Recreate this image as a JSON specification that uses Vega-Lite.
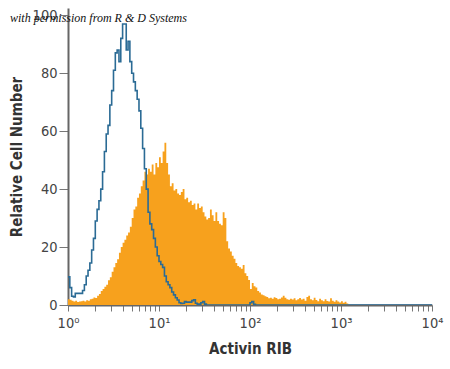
{
  "$schema": "https://vega.github.io/schema/vega-lite/v6.json",
  "autosize": {"type": "none"},
  "padding": {"left": 68, "top": 8, "right": 18, "bottom": 64},
  "width": 364,
  "height": 297,
  "background": "white",
  "config": {"view": {"stroke": null}},
  "title": {
    "text": "with permission from R & D Systems",
    "anchor": "start",
    "frame": "group",
    "orient": "top",
    "offset": -18,
    "dx": -58,
    "font": "Liberation Serif",
    "fontStyle": "italic",
    "fontWeight": "normal",
    "fontSize": 12,
    "color": "#111111"
  },
  "datasets": {
    "isotype": [
      {"intensity": 1.000, "count": 9.7}, {"intensity": 1.047, "count": 6}, {"intensity": 1.096, "count": 3}, {"intensity": 1.148, "count": 2.8},
      {"intensity": 1.202, "count": 4}, {"intensity": 1.259, "count": 4}, {"intensity": 1.318, "count": 4}, {"intensity": 1.380, "count": 4},
      {"intensity": 1.445, "count": 5}, {"intensity": 1.514, "count": 7}, {"intensity": 1.585, "count": 10}, {"intensity": 1.660, "count": 12},
      {"intensity": 1.738, "count": 14.5}, {"intensity": 1.820, "count": 19}, {"intensity": 1.905, "count": 23}, {"intensity": 1.995, "count": 29},
      {"intensity": 2.089, "count": 33}, {"intensity": 2.188, "count": 36}, {"intensity": 2.291, "count": 40}, {"intensity": 2.399, "count": 46},
      {"intensity": 2.512, "count": 53}, {"intensity": 2.630, "count": 59}, {"intensity": 2.754, "count": 62}, {"intensity": 2.884, "count": 69},
      {"intensity": 3.020, "count": 74}, {"intensity": 3.162, "count": 81}, {"intensity": 3.311, "count": 87}, {"intensity": 3.467, "count": 88},
      {"intensity": 3.631, "count": 84}, {"intensity": 3.802, "count": 92}, {"intensity": 3.981, "count": 97}, {"intensity": 4.169, "count": 97},
      {"intensity": 4.365, "count": 88}, {"intensity": 4.571, "count": 91}, {"intensity": 4.786, "count": 84}, {"intensity": 5.012, "count": 80},
      {"intensity": 5.248, "count": 77}, {"intensity": 5.495, "count": 74}, {"intensity": 5.754, "count": 71}, {"intensity": 6.026, "count": 67},
      {"intensity": 6.310, "count": 61}, {"intensity": 6.607, "count": 54}, {"intensity": 6.918, "count": 47}, {"intensity": 7.244, "count": 40},
      {"intensity": 7.586, "count": 32}, {"intensity": 7.943, "count": 28}, {"intensity": 8.318, "count": 26}, {"intensity": 8.710, "count": 23},
      {"intensity": 9.120, "count": 20}, {"intensity": 9.550, "count": 17}, {"intensity": 10.00, "count": 15}, {"intensity": 10.47, "count": 14},
      {"intensity": 10.96, "count": 13}, {"intensity": 11.48, "count": 10}, {"intensity": 12.02, "count": 8}, {"intensity": 12.59, "count": 7},
      {"intensity": 13.18, "count": 6}, {"intensity": 13.80, "count": 4.5}, {"intensity": 14.45, "count": 3.5}, {"intensity": 15.14, "count": 2.5},
      {"intensity": 15.85, "count": 1.7}, {"intensity": 16.60, "count": 0.8}, {"intensity": 17.38, "count": 0.5}, {"intensity": 18.20, "count": 0.6},
      {"intensity": 19.05, "count": 1.2}, {"intensity": 19.95, "count": 1}, {"intensity": 20.89, "count": 1}, {"intensity": 21.88, "count": 1},
      {"intensity": 22.91, "count": 1.5}, {"intensity": 23.99, "count": 1.8}, {"intensity": 25.12, "count": 0.6}, {"intensity": 26.30, "count": 0.3},
      {"intensity": 27.54, "count": 0.3}, {"intensity": 28.84, "count": 0.8}, {"intensity": 30.20, "count": 1.2}, {"intensity": 31.62, "count": 0.3},
      {"intensity": 33.11, "count": 0}, {"intensity": 95.50, "count": 0}, {"intensity": 100.0, "count": 0.8}, {"intensity": 104.7, "count": 1.2},
      {"intensity": 109.6, "count": 0.2}, {"intensity": 114.8, "count": 0}, {"intensity": 10000, "count": 0}
    ],
    "activin": [
      {"intensity": 1.000, "count": 2}, {"intensity": 1.047, "count": 1.8}, {"intensity": 1.096, "count": 1.5}, {"intensity": 1.148, "count": 1.2},
      {"intensity": 1.202, "count": 1.5}, {"intensity": 1.259, "count": 1}, {"intensity": 1.318, "count": 1.2}, {"intensity": 1.380, "count": 1.3},
      {"intensity": 1.445, "count": 1.5}, {"intensity": 1.514, "count": 1.2}, {"intensity": 1.585, "count": 1.6}, {"intensity": 1.660, "count": 1.5},
      {"intensity": 1.738, "count": 2}, {"intensity": 1.820, "count": 2.2}, {"intensity": 1.905, "count": 2.6}, {"intensity": 1.995, "count": 2.4},
      {"intensity": 2.089, "count": 3.2}, {"intensity": 2.188, "count": 3.8}, {"intensity": 2.291, "count": 4.8}, {"intensity": 2.399, "count": 5.5},
      {"intensity": 2.512, "count": 6.3}, {"intensity": 2.630, "count": 7}, {"intensity": 2.754, "count": 8.5}, {"intensity": 2.884, "count": 9.6},
      {"intensity": 3.020, "count": 11.5}, {"intensity": 3.162, "count": 13}, {"intensity": 3.311, "count": 14.5}, {"intensity": 3.467, "count": 15.8},
      {"intensity": 3.631, "count": 18}, {"intensity": 3.802, "count": 20}, {"intensity": 3.981, "count": 21.5}, {"intensity": 4.169, "count": 22.5},
      {"intensity": 4.365, "count": 24}, {"intensity": 4.571, "count": 25}, {"intensity": 4.786, "count": 27}, {"intensity": 5.012, "count": 30},
      {"intensity": 5.248, "count": 33}, {"intensity": 5.495, "count": 34}, {"intensity": 5.754, "count": 37}, {"intensity": 6.026, "count": 38.5},
      {"intensity": 6.310, "count": 41}, {"intensity": 6.607, "count": 43}, {"intensity": 6.918, "count": 46}, {"intensity": 7.244, "count": 45},
      {"intensity": 7.586, "count": 47}, {"intensity": 7.943, "count": 46}, {"intensity": 8.318, "count": 48.5}, {"intensity": 8.710, "count": 45},
      {"intensity": 9.120, "count": 49}, {"intensity": 9.550, "count": 47.5}, {"intensity": 10.00, "count": 51}, {"intensity": 10.47, "count": 49},
      {"intensity": 10.96, "count": 53}, {"intensity": 11.48, "count": 56}, {"intensity": 12.02, "count": 49}, {"intensity": 12.59, "count": 45},
      {"intensity": 13.18, "count": 41}, {"intensity": 13.80, "count": 42}, {"intensity": 14.45, "count": 39.5}, {"intensity": 15.14, "count": 40},
      {"intensity": 15.85, "count": 38.5}, {"intensity": 16.60, "count": 38}, {"intensity": 17.38, "count": 39}, {"intensity": 18.20, "count": 40},
      {"intensity": 19.05, "count": 36.5}, {"intensity": 19.95, "count": 37}, {"intensity": 20.89, "count": 35.5}, {"intensity": 21.88, "count": 36},
      {"intensity": 22.91, "count": 34.5}, {"intensity": 23.99, "count": 35}, {"intensity": 25.12, "count": 33}, {"intensity": 26.30, "count": 35},
      {"intensity": 27.54, "count": 33.5}, {"intensity": 28.84, "count": 34}, {"intensity": 30.20, "count": 32}, {"intensity": 31.62, "count": 30.5},
      {"intensity": 33.11, "count": 29.5}, {"intensity": 34.67, "count": 30}, {"intensity": 36.31, "count": 33}, {"intensity": 38.02, "count": 31},
      {"intensity": 39.81, "count": 29}, {"intensity": 41.69, "count": 32}, {"intensity": 43.65, "count": 29}, {"intensity": 45.71, "count": 28},
      {"intensity": 47.86, "count": 27.5}, {"intensity": 50.12, "count": 32}, {"intensity": 52.48, "count": 30}, {"intensity": 54.95, "count": 22},
      {"intensity": 57.54, "count": 19.5}, {"intensity": 60.26, "count": 18.5}, {"intensity": 63.10, "count": 17}, {"intensity": 66.07, "count": 16},
      {"intensity": 69.18, "count": 14.5}, {"intensity": 72.44, "count": 13.5}, {"intensity": 75.86, "count": 13}, {"intensity": 79.43, "count": 12.5},
      {"intensity": 83.18, "count": 13.8}, {"intensity": 87.10, "count": 11}, {"intensity": 91.20, "count": 10}, {"intensity": 95.50, "count": 8.6},
      {"intensity": 100.0, "count": 5.5}, {"intensity": 104.7, "count": 7.6}, {"intensity": 109.6, "count": 6.5}, {"intensity": 114.8, "count": 6},
      {"intensity": 120.2, "count": 4.8}, {"intensity": 125.9, "count": 4.3}, {"intensity": 131.8, "count": 3.6}, {"intensity": 138.0, "count": 3.4},
      {"intensity": 144.5, "count": 3}, {"intensity": 151.4, "count": 2.8}, {"intensity": 158.5, "count": 2.3}, {"intensity": 166.0, "count": 2.5},
      {"intensity": 173.8, "count": 2.2}, {"intensity": 182.0, "count": 2.7}, {"intensity": 190.5, "count": 2.4}, {"intensity": 199.5, "count": 2},
      {"intensity": 208.9, "count": 2.2}, {"intensity": 218.8, "count": 2.6}, {"intensity": 229.1, "count": 3.2}, {"intensity": 239.9, "count": 2.5},
      {"intensity": 251.2, "count": 2}, {"intensity": 263.0, "count": 1.8}, {"intensity": 275.4, "count": 2.2}, {"intensity": 288.4, "count": 1.9},
      {"intensity": 302.0, "count": 2.3}, {"intensity": 316.2, "count": 1.6}, {"intensity": 331.1, "count": 2}, {"intensity": 346.7, "count": 2.4},
      {"intensity": 363.1, "count": 1.9}, {"intensity": 380.2, "count": 2.2}, {"intensity": 398.1, "count": 1.5}, {"intensity": 416.9, "count": 2.8},
      {"intensity": 436.5, "count": 3.2}, {"intensity": 457.1, "count": 2}, {"intensity": 478.6, "count": 1.6}, {"intensity": 501.2, "count": 2.5},
      {"intensity": 524.8, "count": 1.7}, {"intensity": 549.5, "count": 1.3}, {"intensity": 575.4, "count": 2.2}, {"intensity": 602.6, "count": 1.6},
      {"intensity": 631.0, "count": 1.3}, {"intensity": 660.7, "count": 2}, {"intensity": 691.8, "count": 1.4}, {"intensity": 724.4, "count": 1.2},
      {"intensity": 758.6, "count": 2.3}, {"intensity": 794.3, "count": 1.5}, {"intensity": 831.8, "count": 1.1}, {"intensity": 871.0, "count": 1.6},
      {"intensity": 912.0, "count": 1.2}, {"intensity": 955.0, "count": 0.9}, {"intensity": 1000, "count": 1.3}, {"intensity": 1047, "count": 0.8},
      {"intensity": 1096, "count": 1.1}, {"intensity": 1148, "count": 0.5}, {"intensity": 1202, "count": 0}
    ]
  },
  "encoding": {
    "x": {
      "field": "intensity",
      "type": "quantitative",
      "scale": {"type": "log", "domain": [1, 10000], "nice": false},
      "axis": {
        "title": "Activin RIB",
        "titleFont": "DejaVu Sans Condensed, DejaVu Sans, sans-serif",
        "titleFontWeight": "bold",
        "titleFontSize": 15,
        "titleColor": "#333333",
        "titlePadding": 12,
        "values": [1,2,3,4,5,6,7,8,9,10,20,30,40,50,60,70,80,90,100,200,300,400,500,600,700,800,900,1000,2000,3000,4000,5000,6000,7000,8000,9000,10000],
        "labelExpr": "datum.value == 1 ? '10⁰' : datum.value == 10 ? '10¹' : datum.value == 100 ? '10²' : datum.value == 1000 ? '10³' : datum.value == 10000 ? '10⁴' : ''",
        "labelOverlap": false,
        "labelFlush": false,
        "labelBound": false,
        "labelFont": "DejaVu Sans Condensed, DejaVu Sans, sans-serif",
        "labelFontSize": 14.5,
        "labelColor": "#444444",
        "labelPadding": 5,
        "tickSize": 6,
        "tickColor": "#777777",
        "domainColor": "#666666",
        "domainWidth": 2,
        "grid": false
      }
    },
    "y": {
      "field": "count",
      "type": "quantitative",
      "scale": {"domain": [0, 102.5], "nice": false},
      "axis": {
        "title": "Relative Cell Number",
        "titleFont": "DejaVu Sans Condensed, DejaVu Sans, sans-serif",
        "titleFontWeight": "bold",
        "titleFontSize": 15,
        "titleColor": "#333333",
        "titlePadding": 8,
        "values": [0, 20, 40, 60, 80, 100],
        "labelFont": "DejaVu Sans Condensed, DejaVu Sans, sans-serif",
        "labelFontSize": 14.5,
        "labelColor": "#444444",
        "labelPadding": 2,
        "tickSize": 9,
        "tickColor": "#777777",
        "domainColor": "#666666",
        "domainWidth": 2,
        "grid": false
      }
    }
  },
  "layer": [
    {
      "data": {"name": "activin"},
      "mark": {"type": "area", "interpolate": "step-after", "color": "#f7a11d", "clip": true}
    },
    {
      "data": {"name": "isotype"},
      "mark": {"type": "line", "interpolate": "step-after", "color": "#2b6b95", "strokeWidth": 1.6, "clip": true}
    }
  ]
}
